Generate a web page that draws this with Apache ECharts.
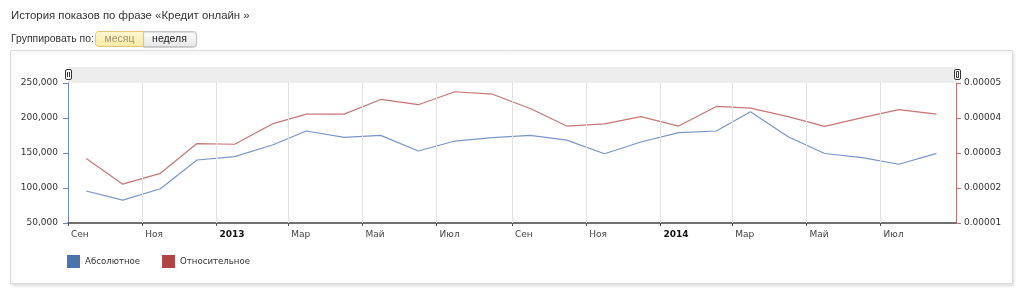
<!DOCTYPE html>
<html><head><meta charset="utf-8">
<script src="https://cdn.jsdelivr.net/npm/echarts@6/dist/echarts.min.js"></script>
<style>html,body{margin:0;padding:0;background:#fff}#c{width:1024px;height:294px}</style>
</head><body><div id="c"></div>
<script>
// ---- data ----
const months = ['2012-09','2012-10','2012-11','2012-12','2013-01','2013-02','2013-03','2013-04','2013-05','2013-06','2013-07','2013-08',
                '2013-09','2013-10','2013-11','2013-12','2014-01','2014-02','2014-03','2014-04','2014-05','2014-06','2014-07','2014-08'];
const absolute = [95700, 82600, 99000, 140000, 144800, 161400, 181400, 172400, 175200, 152900, 167100, 171900,
                  175200, 168400, 149000, 165700, 179000, 181400, 209000, 173300, 149300, 143300, 133900, 149500];
const relative = [0.0000284, 0.0000211, 0.0000242, 0.0000327, 0.0000325, 0.0000383, 0.0000411, 0.0000411, 0.0000453, 0.0000438, 0.0000475, 0.0000468,
                  0.0000427, 0.0000377, 0.0000383, 0.0000404, 0.0000377, 0.0000433, 0.0000428, 0.0000404, 0.0000376, 0.0000401, 0.0000424, 0.0000411];
const tickMonths = ['2012-09','2012-11','2013-01','2013-03','2013-05','2013-07','2013-09','2013-11','2014-01','2014-03','2014-05','2014-07'];
const monthNames = ['Янв','Фев','Мар','Апр','Май','Июн','Июл','Авг','Сен','Окт','Ноя','Дек'];
const seriesNames = ['Абсолютное', 'Относительное'];
const axisStart = '2012-09', axisEnd = '2014-09';

function toTime(ym, day) { const p = ym.split('-'); return new Date(+p[0], +p[1] - 1, day).getTime(); }

const absData = months.map((m, i) => [toTime(m, 16), absolute[i]]);
const relData = months.map((m, i) => [toTime(m, 16), relative[i]]);
const tickValues = tickMonths.map(m => toTime(m, 1));

const FONT = 'DejaVu Sans';
const chart = echarts.init(document.getElementById('c'), null, {renderer: 'canvas'});

chart.setOption({
  animation: false,
  backgroundColor: '#fff',
  graphic: [
    {type: 'rect', z: -10, shape: {x: 10.5, y: 50.5, width: 1002, height: 233},
     style: {fill: '#fff', stroke: '#dcdcdc', lineWidth: 1, shadowColor: 'rgba(0,0,0,0.12)', shadowBlur: 3, shadowOffsetX: 1, shadowOffsetY: 2}},
    {type: 'text', x: 11, y: 15.5, style: {text: 'История показов по фразе «Кредит онлайн »', font: '11.4px "Liberation Sans"', fill: '#333', verticalAlign: 'middle'}},
    {type: 'text', x: 11, y: 39.5, style: {text: 'Группировать по:', font: '10.4px "Liberation Sans"', fill: '#333', verticalAlign: 'middle'}},
    {type: 'rect', shape: {x: 95.5, y: 31.5, width: 48, height: 15, r: [3, 0, 0, 3]},
     style: {fill: new echarts.graphic.LinearGradient(0, 0, 0, 1, [{offset: 0, color: '#fff7d2'}, {offset: 1, color: '#ffeaa0'}]), stroke: '#e2c778', lineWidth: 1}},
    {type: 'text', x: 119.5, y: 39.5, style: {text: 'месяц', font: '10.5px "Liberation Sans"', fill: '#a09272', align: 'center', verticalAlign: 'middle'}},
    {type: 'rect', shape: {x: 143.5, y: 31.5, width: 53, height: 15, r: [0, 3, 3, 0]},
     style: {fill: new echarts.graphic.LinearGradient(0, 0, 0, 1, [{offset: 0, color: '#ffffff'}, {offset: 1, color: '#e6e6e6'}]), stroke: '#c6c6c6', lineWidth: 1,
             shadowColor: 'rgba(0,0,0,0.15)', shadowBlur: 1, shadowOffsetY: 1}},
    {type: 'text', x: 169.5, y: 39.5, style: {text: 'неделя', font: '10.5px "Liberation Sans"', fill: '#222', align: 'center', verticalAlign: 'middle'}},
    {type: 'rect', shape: {x: 68, y: 67, width: 888, height: 16}, style: {fill: '#ededed'}},
    {type: 'rect', shape: {x: 65.5, y: 69.5, width: 6, height: 10, r: 1.5}, style: {fill: '#fff', stroke: '#333', lineWidth: 1}},
    {type: 'line', shape: {x1: 67.5, y1: 72, x2: 67.5, y2: 77}, style: {stroke: '#333', lineWidth: 1}},
    {type: 'line', shape: {x1: 69.5, y1: 72, x2: 69.5, y2: 77}, style: {stroke: '#333', lineWidth: 1}},
    {type: 'rect', shape: {x: 954.5, y: 69.5, width: 6, height: 10, r: 1.5}, style: {fill: '#fff', stroke: '#333', lineWidth: 1}},
    {type: 'rect', shape: {x: 956.5, y: 71.5, width: 2, height: 6}, style: {fill: '#fff', stroke: '#333', lineWidth: 1}}
  ],
  legend: {
    left: 67, top: 255, padding: 0, itemWidth: 13, itemHeight: 13, itemGap: 22, icon: 'rect',
    textStyle: {fontFamily: FONT, fontSize: 8.6, color: '#333'},
    data: [
      {name: seriesNames[0], itemStyle: {color: '#4a74ad'}},
      {name: seriesNames[1], itemStyle: {color: '#b04444'}}
    ]
  },
  grid: {left: 68, right: 68, top: 83, bottom: 71, containLabel: false},
  xAxis: {
    type: 'value',
    min: toTime(axisStart, 1), max: toTime(axisEnd, 1),
    axisLine: {lineStyle: {color: '#707070', width: 2}},
    axisTick: {show: true, length: 3, customValues: tickValues, lineStyle: {color: '#555', width: 1}},
    splitLine: {show: false},
    axisLabel: {
      customValues: tickValues,
      align: 'left', padding: [0, 0, 0, 3], margin: 7,
      fontFamily: FONT, fontSize: 9, color: '#444',
      formatter: function (v) {
        const d = new Date(v);
        if (d.getMonth() === 0) return '{y|' + d.getFullYear() + '}';
        return monthNames[d.getMonth()];
      },
      rich: {y: {fontFamily: FONT, fontSize: 9, fontWeight: 'bold', color: '#111'}}
    }
  },
  yAxis: [
    {
      type: 'value', min: 50000, max: 250000, interval: 50000, position: 'left',
      axisLine: {show: true, lineStyle: {color: '#6a8dc4', width: 1}},
      axisTick: {show: true, length: 5, lineStyle: {color: '#6a8dc4'}},
      splitLine: {show: false},
      axisLabel: {margin: 10, fontFamily: FONT, fontSize: 9, color: '#333',
        formatter: v => v.toLocaleString('en-US')}
    },
    {
      type: 'value', min: 0.00001, max: 0.00005, interval: 0.00001, position: 'right',
      axisLine: {show: true, lineStyle: {color: '#c86e6e', width: 1}},
      axisTick: {show: true, length: 5, lineStyle: {color: '#c86e6e'}},
      splitLine: {show: false},
      axisLabel: {margin: 8, fontFamily: FONT, fontSize: 9, color: '#333',
        formatter: v => v.toFixed(5)}
    }
  ],
  series: [
    {name: 'grid', type: 'line', yAxisIndex: 0, data: [], z: 1, silent: true,
     markLine: {silent: true, symbol: 'none', label: {show: false}, animation: false,
       lineStyle: {color: '#e2e2e2', type: 'solid', width: 1},
       data: tickValues.slice(1).map(v => ({xAxis: v}))}},
    {name: seriesNames[0], type: 'line', yAxisIndex: 0, data: absData, showSymbol: false, symbol: 'none',
     itemStyle: {color: '#4a74ad'}, lineStyle: {color: '#7797c9', width: 1.2}, z: 3},
    {name: seriesNames[1], type: 'line', yAxisIndex: 1, data: relData, showSymbol: false, symbol: 'none',
     itemStyle: {color: '#b04444'}, lineStyle: {color: '#c87676', width: 1.2}, z: 2}
  ]
});
</script>
</body></html>
